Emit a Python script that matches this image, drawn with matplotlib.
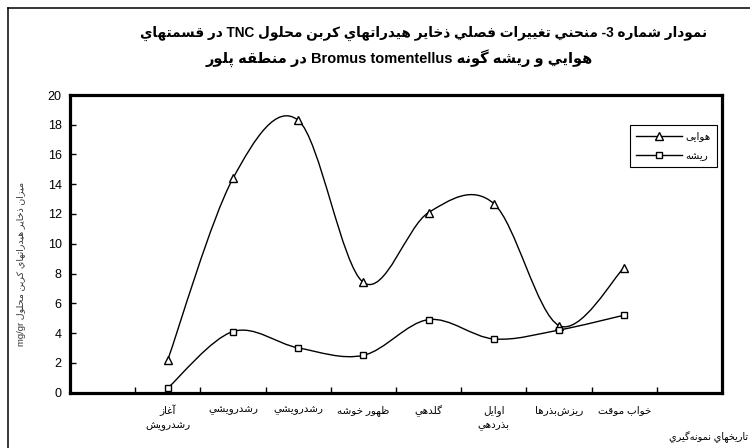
import numpy as np
import matplotlib
matplotlib.use("Agg")
import matplotlib.pyplot as plt
from matplotlib.path import Path
from matplotlib.patches import PathPatch
from matplotlib.lines import Line2D

# ---------------- data ----------------
categories = ['آغاز\nرشدرويش', 'رشدرويشي', 'رشدرويشي', 'ظهور خوشه',
              'گلدهي', 'اوايل\nبذردهي', 'ريزش\u200cبذرها', 'خواب موقت']
aerial = [2.2, 14.4, 18.3, 7.4, 12.1, 12.7, 4.5, 8.4]
root = [0.3, 4.1, 3.0, 2.5, 4.9, 3.6, 4.2, 5.2]
series_names = ['هوایی', 'ريشه']
yticks = list(range(0, 21, 2))
title_lines = ['نمودار شماره 3- منحني تغييرات فصلي ذخاير هيدراتهاي كربن محلول TNC در قسمتهاي',
               'هوايي و ريشه گونه Bromus tomentellus در منطقه پلور']
ylabel = 'ميزان ذخاير هيدراتهاي كربن محلول mg/gr'
xlabel = 'تاريخهاي نمونه\u200cگيري'

# ---------------- simple Arabic/Persian shaping + bidi ----------------
FORMS = {  # isolated, final, initial, medial (None -> right-joining only)
    '\u0622': (0xFE81, 0xFE82, None, None),
    '\u0627': (0xFE8D, 0xFE8E, None, None),
    '\u0628': (0xFE8F, 0xFE90, 0xFE91, 0xFE92),
    '\u067E': (0xFB56, 0xFB57, 0xFB58, 0xFB59),
    '\u062A': (0xFE95, 0xFE96, 0xFE97, 0xFE98),
    '\u062B': (0xFE99, 0xFE9A, 0xFE9B, 0xFE9C),
    '\u062C': (0xFE9D, 0xFE9E, 0xFE9F, 0xFEA0),
    '\u062D': (0xFEA1, 0xFEA2, 0xFEA3, 0xFEA4),
    '\u062E': (0xFEA5, 0xFEA6, 0xFEA7, 0xFEA8),
    '\u062F': (0xFEA9, 0xFEAA, None, None),
    '\u0630': (0xFEAB, 0xFEAC, None, None),
    '\u0631': (0xFEAD, 0xFEAE, None, None),
    '\u0632': (0xFEAF, 0xFEB0, None, None),
    '\u0633': (0xFEB1, 0xFEB2, 0xFEB3, 0xFEB4),
    '\u0634': (0xFEB5, 0xFEB6, 0xFEB7, 0xFEB8),
    '\u0635': (0xFEB9, 0xFEBA, 0xFEBB, 0xFEBC),
    '\u0636': (0xFEBD, 0xFEBE, 0xFEBF, 0xFEC0),
    '\u0637': (0xFEC1, 0xFEC2, 0xFEC3, 0xFEC4),
    '\u0638': (0xFEC5, 0xFEC6, 0xFEC7, 0xFEC8),
    '\u0639': (0xFEC9, 0xFECA, 0xFECB, 0xFECC),
    '\u063A': (0xFECD, 0xFECE, 0xFECF, 0xFED0),
    '\u0641': (0xFED1, 0xFED2, 0xFED3, 0xFED4),
    '\u0642': (0xFED5, 0xFED6, 0xFED7, 0xFED8),
    '\u0643': (0xFED9, 0xFEDA, 0xFEDB, 0xFEDC),
    '\u06A9': (0xFB8E, 0xFB8F, 0xFB90, 0xFB91),
    '\u06AF': (0xFB92, 0xFB93, 0xFB94, 0xFB95),
    '\u0644': (0xFEDD, 0xFEDE, 0xFEDF, 0xFEE0),
    '\u0645': (0xFEE1, 0xFEE2, 0xFEE3, 0xFEE4),
    '\u0646': (0xFEE5, 0xFEE6, 0xFEE7, 0xFEE8),
    '\u0647': (0xFEE9, 0xFEEA, 0xFEEB, 0xFEEC),
    '\u0648': (0xFEED, 0xFEEE, None, None),
    '\u064A': (0xFEF1, 0xFEF2, 0xFEF3, 0xFEF4),
    '\u06CC': (0xFBFC, 0xFBFD, 0xFBFE, 0xFBFF),
}


def dual(c):
    return c in FORMS and FORMS[c][2] is not None


def shape(s):
    out = []
    n = len(s)
    for i, c in enumerate(s):
        if c not in FORMS:
            if c != '\u200c':
                out.append(c)
            continue
        prev = s[i - 1] if i > 0 else ''
        nxt = s[i + 1] if i + 1 < n else ''
        pj = dual(prev)
        nj = dual(c) and nxt in FORMS
        f = FORMS[c]
        if pj and nj:
            code = f[3]
        elif pj:
            code = f[1]
        elif nj:
            code = f[2]
        else:
            code = f[0]
        out.append(chr(code))
    return ''.join(out)


def ctype(c):
    o = ord(c)
    if 0x0600 <= o <= 0x06FF or 0xFB50 <= o <= 0xFDFF or 0xFE70 <= o <= 0xFEFF:
        return 'R'
    if c.isalnum():
        return 'L'
    return 'N'


def visual_line(s):
    s = shape(s)
    t = [ctype(c) for c in s]
    n = len(t)
    i = 0
    while i < n:
        if t[i] == 'N':
            j = i
            while j < n and t[j] == 'N':
                j += 1
            prev = t[i - 1] if i > 0 else 'R'
            nxt = t[j] if j < n else 'R'
            d = prev if prev == nxt else 'R'
            for k in range(i, j):
                t[k] = d
            i = j
        else:
            i += 1
    runs = []
    for c, ty in zip(s, t):
        if runs and runs[-1][0] == ty:
            runs[-1][1].append(c)
        else:
            runs.append([ty, [c]])
    parts = []
    for ty, chars in reversed(runs):
        parts.append(''.join(reversed(chars)) if ty == 'R' else ''.join(chars))
    return ''.join(parts)


def fa(s):
    return '\n'.join(visual_line(l) for l in s.split('\n'))


FAM = ['Liberation Sans', 'DejaVu Sans']
plt.rcParams['font.family'] = FAM


# ---------------- Excel-like smoothed line ----------------
def smooth_path(xs, ys):
    P = np.column_stack([xs, ys]).astype(float)
    n = len(P)
    verts = [P[0]]
    codes = [Path.MOVETO]
    for i in range(n - 1):
        p0 = P[i - 1] if i > 0 else P[i]
        p1, p2 = P[i], P[i + 1]
        p3 = P[i + 2] if i + 2 < n else P[i + 1]
        verts += [p1 + (p2 - p0) / 6.0, p2 - (p3 - p1) / 6.0, p2]
        codes += [Path.CURVE4] * 3
    return Path(verts, codes)


# ---------------- figure ----------------
fig = plt.figure(figsize=(7.5, 4.48), dpi=100)
ax = fig.add_axes([70 / 750, 1 - 392.5 / 448, 652 / 750, 297.5 / 448])

xpos = np.arange(len(categories))
for vals in (aerial, root):
    ax.add_patch(PathPatch(smooth_path(xpos, vals), fill=False, edgecolor='black',
                           lw=1.0, zorder=2))
handles = []
for vals, mk, ms, name in [(aerial, '^', 6.0, series_names[0]), (root, 's', 4.6, series_names[1])]:
    ax.plot(xpos, vals, linestyle='none', marker=mk, ms=ms, mfc='white',
            mec='black', mew=1.0, zorder=3)
    handles.append(Line2D([], [], color='black', lw=1.0, marker=mk, ms=ms,
                          mfc='white', mec='black', mew=1.0, label=fa(name)))

ax.set_xlim(-1.5, len(categories) + 0.5)
ax.set_ylim(0, 20)
ax.set_yticks(yticks)
ax.set_xticks(xpos)
ax.set_xticklabels([fa(c) for c in categories], fontsize=7.5, linespacing=1.5)
ax.set_xticks(np.arange(-1.5, len(categories) + 1.0, 1.0), minor=True)
ax.tick_params(axis='x', which='major', length=0, pad=9)
ax.tick_params(axis='x', which='minor', direction='in', length=4, width=1)
ax.tick_params(axis='y', direction='in', length=4, width=1, labelsize=9, pad=6)
for sp in ax.spines.values():
    sp.set_linewidth(2.3)
    sp.set_color('black')

leg = ax.legend(handles=handles, loc='upper left', bbox_to_anchor=(0.859, 0.899),
                borderaxespad=0, fancybox=False, edgecolor='black', fontsize=7.5,
                handlelength=4.4, handletextpad=0.3, labelspacing=0.9,
                borderpad=0.6, framealpha=1)
leg.get_frame().set_linewidth(0.8)

# titles
fig.text(424 / 750, 1 - 33 / 448, fa(title_lines[0]), ha='center', va='center',
         fontsize=9.8, fontweight='bold')
fig.text(399 / 750, 1 - 58 / 448, fa(title_lines[1]), ha='center', va='center',
         fontsize=10.5, fontweight='bold')
fig.text(22 / 750, 1 - 264 / 448, fa(ylabel), rotation=90, ha='center', va='center',
         fontsize=6.8, color='#333333')
fig.text(748 / 750, 1 - 437 / 448, fa(xlabel), ha='right', va='center', fontsize=7)

# outer chart border (left and top visible)
fig.add_artist(Line2D([8 / 750, 8 / 750], [0, 1 - 8 / 448], color='black', lw=1.1,
                      transform=fig.transFigure))
fig.add_artist(Line2D([8 / 750, 1], [1 - 8 / 448, 1 - 8 / 448], color='black', lw=1.1,
                      transform=fig.transFigure))

fig.savefig('out.png', dpi=100)
